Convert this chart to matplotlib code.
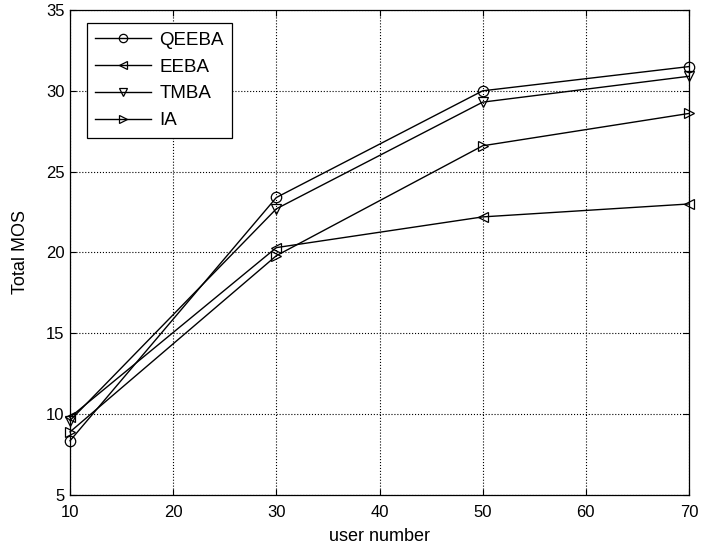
import matplotlib
matplotlib.use("Agg")
import matplotlib.pyplot as plt

plt.rcParams['font.family'] = ['Liberation Sans', 'DejaVu Sans']

# --- data ---
user_number = [10, 30, 50, 70]
qeeba = [8.35, 23.4, 30.0, 31.5]
eeba = [9.8, 20.3, 22.2, 23.0]
tmba = [9.6, 22.7, 29.3, 30.9]
ia = [8.9, 19.8, 26.6, 28.6]

series = [
    ('QEEBA', qeeba, 'o'),
    ('EEBA', eeba, '<'),
    ('TMBA', tmba, 'v'),
    ('IA', ia, '>'),
]

fig = plt.figure(figsize=(7.01, 5.49), dpi=100)
ax = fig.add_axes([0.0999, 0.0985, 0.883, 0.8833])

for name, vals, mk in series:
    ax.plot(user_number, vals, color='k', linewidth=1.0, marker=mk,
            markersize=7.5, markerfacecolor='none', markeredgecolor='k',
            markeredgewidth=0.9, label=name, clip_on=False)

ax.set_xlim(10, 70)
ax.set_ylim(5, 35)
ax.set_xticks([10, 20, 30, 40, 50, 60, 70])
ax.set_yticks([5, 10, 15, 20, 25, 30, 35])
ax.grid(True, color='k', linestyle=':', linewidth=0.8)
ax.tick_params(direction='in', top=True, right=True, labelsize=12, length=4)
ax.tick_params(axis='x', pad=7)
ax.tick_params(axis='y', pad=4)
for s in ax.spines.values():
    s.set_linewidth(0.9)

ax.set_xlabel('user number', fontsize=13, labelpad=6)
ax.set_ylabel('Total MOS', fontsize=13, labelpad=12)

leg = ax.legend(loc='upper left', bbox_to_anchor=(0.027, 0.973), fontsize=13.5,
                handlelength=3.0, handletextpad=0.43, markerscale=0.8,
                fancybox=False, edgecolor='k', framealpha=1, borderaxespad=0,
                labelspacing=0.52, borderpad=0.45)
leg.get_frame().set_linewidth(0.9)

fig.savefig('out.png', dpi=100)
